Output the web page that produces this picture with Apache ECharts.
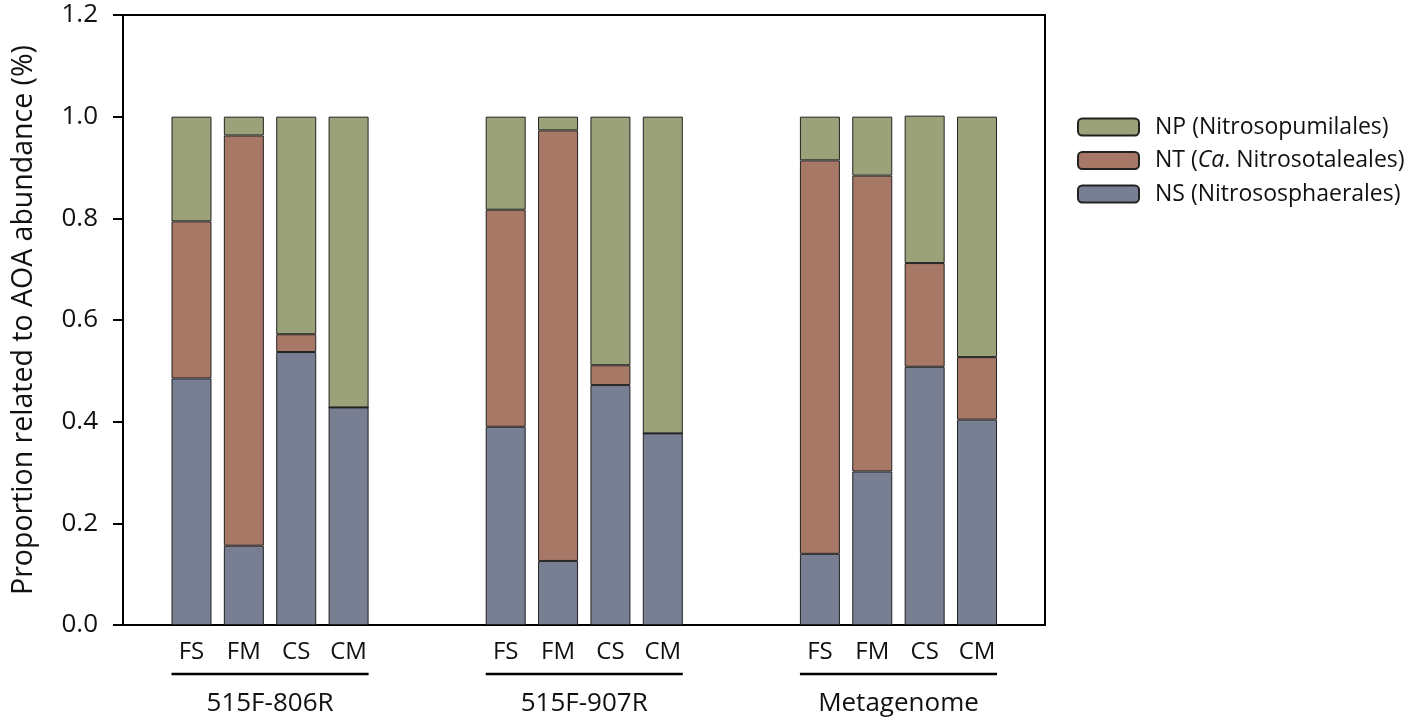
<!DOCTYPE html>
<html>
<head>
<meta charset="utf-8">
<script src="https://cdn.jsdelivr.net/npm/echarts@6/dist/echarts.min.js"></script>
<style>
html,body{margin:0;padding:0;background:#fff;}
#main{width:1418px;height:723px;}
</style>
</head>
<body>
<div id="main"></div>
<script>
// ---- data ----
var groups = ['515F-806R', '515F-907R', 'Metagenome'];
var samples = ['FS', 'FM', 'CS', 'CM'];
var seriesNames = ['NS (Nitrososphaerales)', 'NT (Ca. Nitrosotaleales)', 'NP (Nitrosopumilales)'];
var NS = [0.485, 0.156, 0.537, 0.428,  0.390, 0.126, 0.472, 0.377,  0.140, 0.302, 0.508, 0.404];
var NT = [0.309, 0.807, 0.035, 0.000,  0.427, 0.847, 0.039, 0.000,  0.774, 0.582, 0.204, 0.123];
var NP = [0.206, 0.037, 0.428, 0.572,  0.183, 0.027, 0.489, 0.623,  0.086, 0.116, 0.290, 0.473];
var yTicks = [0, 0.2, 0.4, 0.6, 0.8, 1.0, 1.2];

// ---- build category slots (two empty slots between groups) ----
var gapSlots = 2;
var cats = [];
function slotData(arr) {
  var out = [];
  for (var g = 0; g < groups.length; g++) {
    for (var s = 0; s < samples.length; s++) out.push(arr[g * samples.length + s]);
    if (g < groups.length - 1) for (var k = 0; k < gapSlots; k++) out.push('-');
  }
  return out;
}
for (var g = 0; g < groups.length; g++) {
  for (var s = 0; s < samples.length; s++) cats.push(samples[s]);
  if (g < groups.length - 1) for (var k = 0; k < gapSlots; k++) cats.push('');
}

var colors = ['#787f93', '#a87866', '#9ba27a'];
var FONT = '"Open Sans"';
var chart = echarts.init(document.getElementById('main'), null, {renderer: 'canvas'});

var seriesValues = [NS, NT, NP];
var series = seriesNames.map(function (n, i) {
  return {
    name: n,
    type: 'bar',
    stack: 'total',
    xAxisIndex: 1,
    yAxisIndex: 1,
    barWidth: 40,
    data: slotData(seriesValues[i]),
    itemStyle: {color: colors[i], borderColor: '#222', borderWidth: 1},
    emphasis: {disabled: true}
  };
});

var option = {
  animation: false,
  backgroundColor: '#fff',
  textStyle: {fontFamily: FONT},
  grid: [
    {left: 123, top: 15, width: 922, height: 610, show: true, borderColor: '#000', borderWidth: 2, backgroundColor: 'transparent'},
    {left: 165.3, top: 15, width: 837.9, height: 610}
  ],
  xAxis: [
    {type: 'category', gridIndex: 0, data: [''], axisLine: {show: true, lineStyle: {color: '#000', width: 2}},
     axisTick: {show: false}, axisLabel: {show: false}},
    {type: 'category', gridIndex: 1, data: cats, axisLine: {show: false}, axisTick: {show: false},
     axisLabel: {color: '#111', fontSize: 24, margin: 15, fontFamily: FONT, interval: 0}}
  ],
  yAxis: [
    {type: 'value', gridIndex: 0, min: yTicks[0], max: yTicks[yTicks.length - 1], interval: 0.2,
     axisLine: {show: true, lineStyle: {color: '#000', width: 2}},
     axisTick: {show: true, length: 10, lineStyle: {color: '#000', width: 2}},
     axisLabel: {color: '#111', fontSize: 26, margin: 25, fontFamily: FONT,
                 formatter: function (v) { return v.toFixed(1); }},
     splitLine: {show: false},
     name: 'Proportion related to AOA abundance (%)', nameLocation: 'middle', nameGap: 85,
     nameTextStyle: {color: '#111', fontSize: 28.5, fontFamily: FONT}},
    {type: 'value', gridIndex: 1, min: 0, max: 1.2, show: false}
  ],
  legend: {
    orient: 'vertical',
    left: 1077,
    top: 113,
    padding: 0,
    itemWidth: 61,
    itemHeight: 17,
    itemGap: 5.5,
    data: [seriesNames[2], seriesNames[1], seriesNames[0]],
    textStyle: {fontSize: 23, color: '#111', fontFamily: FONT, lineHeight: 28, padding: [0, 0, 0, 11],
                rich: {n: {fontSize: 23, fontFamily: FONT, color: '#111', lineHeight: 28},
                       i: {fontSize: 23, fontFamily: FONT, color: '#111', fontStyle: 'italic', lineHeight: 28}}},
    formatter: function (name) {
      if (name.indexOf('Ca.') >= 0) return '{n|NT (}{i|Ca}{n|. Nitrosotaleales)}';
      return name;
    },
    selectedMode: false
  },
  series: series
};
chart.setOption(option);

// group underlines and labels positioned via the axis scale
var gfx = [];
var y0 = chart.convertToPixel({yAxisIndex: 0}, 0);
var slotsPerGroup = samples.length + gapSlots;
for (var gi = 0; gi < groups.length; gi++) {
  var first = gi * slotsPerGroup;
  var last = first + samples.length - 1;
  var x1 = chart.convertToPixel({xAxisIndex: 1}, first) - 20;
  var x2 = chart.convertToPixel({xAxisIndex: 1}, last) + 20;
  gfx.push({type: 'line', shape: {x1: x1, y1: y0 + 49, x2: x2, y2: y0 + 49},
            style: {stroke: '#000', lineWidth: 2.5}, silent: true});
  gfx.push({type: 'text', x: (x1 + x2) / 2, y: y0 + 79,
            style: {text: groups[gi], fill: '#111', fontSize: 26, fontFamily: FONT,
                    textAlign: 'center', textVerticalAlign: 'middle'}, silent: true});
}
chart.setOption({graphic: gfx});
</script>
</body>
</html>
